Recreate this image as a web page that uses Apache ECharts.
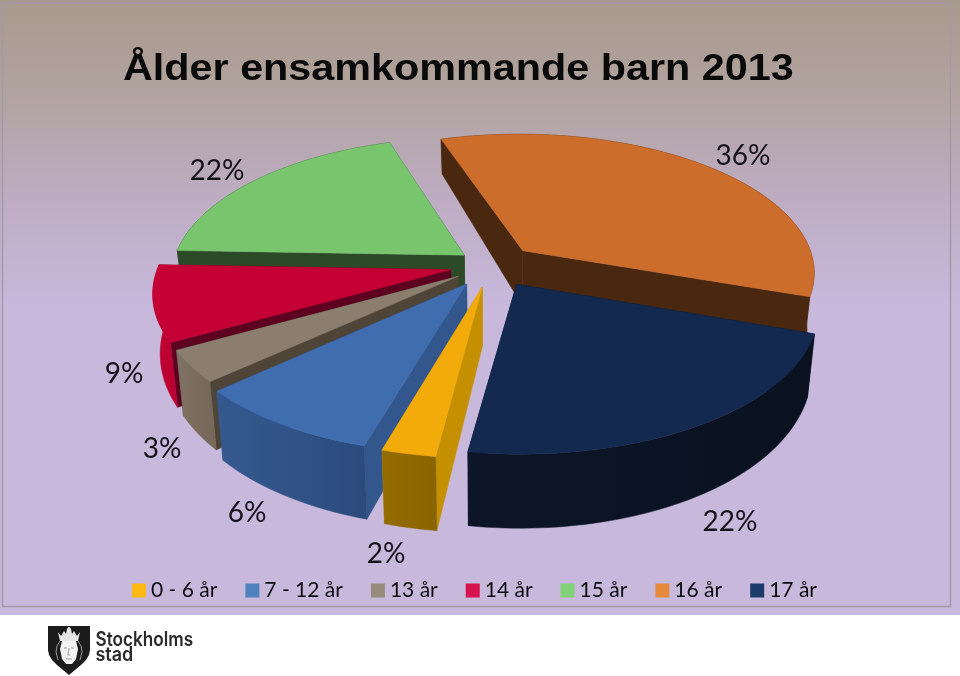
<!DOCTYPE html>
<html><head><meta charset="utf-8">
<style>html,body{margin:0;padding:0;background:#fff}#c{width:960px;height:676px}</style>
<script src="https://cdn.jsdelivr.net/npm/echarts@6/dist/echarts.min.js"></script>
</head><body><div id="c"></div>
<script>
const title = 'Ålder ensamkommande barn 2013';
const categories = ['0 - 6 år','7 - 12 år','13 år','14 år','15 år','16 år','17 år'];
const values = [2,6,3,9,22,36,22];
const legendColors = ['#fdb813','#4f81bd','#968b7d','#d5134f','#82d078','#e58a3c','#1c3a6a'];
const topColors = ['#f3ab0c','#3f6db0','#8b7e6e','#c40034','#78c56e','#cc6d2c','#14294f'];
const radialColors = ['#c49000','#33578c','#4f4438','#5e0020','#2d4a28','#4a2810','#0b1525'];
const arcColorsA = ['#946c00','#35598f','#7e7262','#bc0032','#2d4a28','#4a2810','#0c1628'];
const arcColorsB = ['#8a6400','#2b4b7c','#76695a','#bc0032','#2d4a28','#4a2810','#0a1220'];
const drawOrder = [5,4,3,2,1,0,6];
const explode = [.16,.16,.14,.145,.12,.15,.16];
const labelPos = [[386,554],[247,513],[162,449],[124,374],[217,171],[743,156],[730,522]];

// view geometry of the perspective pie
const cx=492, cy=265, R=292, Ry=138, P=.15, BOTTOM=.978, START=188;
// angular distortion of the reference's oblique view (data angle -> drawn angle)
const warpA=[188,195.2,216.8,227.6,260,339.2,395,548];
const warpB=[187.3,196.3,228,241,272,342,395,548.7];
function warp(t){for(let i=1;i<warpA.length;i++){if(t<=warpA[i]){const f=(t-warpA[i-1])/(warpA[i]-warpA[i-1]);return warpB[i-1]+f*(warpB[i]-warpB[i-1]);}}return t;}
function topPt(x,y){const s=1/(1-P*y);return [cx+R*x*s,cy+Ry*y*s];}
function botPt(x,y){const p=topPt(x,y);const h=35+37*Math.pow(Math.max(0,(1+y)/2),.8);return [cx+(p[0]-cx)*BOTTOM,p[1]+h];}
const total=values.reduce((a,b)=>a+b,0);
const starts=values.map((v,i)=>values.slice(0,i).reduce((a,b)=>a+b,0));

function renderSlice(idx){
  return function(params,api){
    const a0=warp(START+api.value(0)/total*360), a1=warp(START+(api.value(0)+api.value(1))/total*360);
    const mid=(a0+a1)/2*Math.PI/180, e=explode[idx];
    const ox=e*Math.sin(mid), oy=-e*Math.cos(mid);
    const g=[];const n=Math.max(6,Math.round((a1-a0)/1.5));
    for(let i=0;i<=n;i++){const t=(a0+(a1-a0)*i/n)*Math.PI/180;g.push([ox+Math.sin(t),oy-Math.cos(t)]);}
    const arcT=g.map(q=>topPt(q[0],q[1])), arcB=g.map(q=>botPt(q[0],q[1]));
    const at=topPt(ox,oy), ab=botPt(ox,oy);
    const poly=(pts,fill)=>({type:'polygon',shape:{points:pts},style:{fill:fill,stroke:fill,lineWidth:.5}});
    const lastG=g.length-1;
    const xs=arcT.map(p=>p[0]);
    const arcFill=new echarts.graphic.LinearGradient(Math.min(...xs),0,Math.max(...xs),0,[{offset:0,color:arcColorsA[idx]},{offset:1,color:arcColorsB[idx]}],true);
    return {type:'group',children:[
      poly([at,arcT[0],arcB[0],ab],radialColors[idx]),
      poly([at,arcT[lastG],arcB[lastG],ab],radialColors[idx]),
      poly(arcT.concat(arcB.slice().reverse()),arcFill),
      poly([at].concat(arcT),topColors[idx]),
      {type:'text',style:{text:api.value(1)+'%',x:labelPos[idx][0],y:labelPos[idx][1],align:'center',verticalAlign:'middle',font:'28px Lato',fill:'#15121c'},z2:50}
    ]};
  };
}

const series=drawOrder.map(i=>({
  type:'custom',name:categories[i],coordinateSystem:'none',silent:true,animation:false,
  itemStyle:{color:legendColors[i]},
  data:[[starts[i],values[i]]],renderItem:renderSlice(i)
}));

const shield=[[48,626],[90,626],[90,650],[89,655],[86,660],[81,665],[69,675],[57,665],[52,660],[49,655],[48,650]];
const crown=[[58,632],[61,636],[64,631],[66,634],[67,629],[69,626.5],[71,629],[72,634],[74,631],[77,636],[80,632],[78,641],[60,641]];
const face=[[62,641],[76,641],[78,649],[76,659],[72,664],[66,664],[62,659],[60,649]];
const logoLines=[
  [[60,641],[57,646],[56,652],[58,660]],
  [[78,641],[81,646],[82,652],[80,660]],
  [[64,648],[67,648]],[[71,648],[74,648]],
  [[69,648],[68,655],[70,655]],[[66,659],[72,659]]
];
const chart=echarts.init(document.getElementById('c'),null,{renderer:'canvas'});
chart.setOption({
  animation:false,
  legend:{data:categories,left:127,top:575,itemWidth:14,itemHeight:14,itemGap:28,icon:'rect',
    textStyle:{fontFamily:'Lato',fontSize:21,color:'#0c0c10',padding:[5,0,0,0]}},
  graphic:[
    {type:'rect',z:-10,silent:true,shape:{x:0,y:0,width:960,height:615},
     style:{fill:new echarts.graphic.LinearGradient(0,0,0,1,[{offset:0,color:'#a89a8d'},{offset:.14,color:'#b0a29d'},{offset:.3,color:'#bcabbe'},{offset:.5,color:'#c8b8dc'},{offset:1,color:'#c8b8dc'}])}},
    {type:'rect',z:-9,silent:true,shape:{x:2.5,y:3.5,width:948,height:603},style:{fill:'none',stroke:'#a39aa6',lineWidth:1.5}},
    {type:'text',z:5,silent:true,x:123,y:51,scaleX:1.117,style:{text:title,font:'bold 37px "Liberation Sans"',fill:'#0a0a0a'}},
    {type:'polygon',z:5,silent:true,shape:{points:shield},style:{fill:'#1c1c1c'}},
    {type:'polygon',z:6,silent:true,shape:{points:crown},style:{fill:'#e6e6e6'}},
    {type:'polygon',z:6,silent:true,shape:{points:face},style:{fill:'#f2f2f2'}}
  ].concat(logoLines.map(l=>({type:'polyline',z:7,silent:true,shape:{points:l},style:{fill:'none',stroke:'#9a9a9a',lineWidth:1}}))).concat([
    {type:'text',z:5,silent:true,x:95.5,y:630,scaleX:.88,style:{text:'Stockholms',font:'600 19.5px Inter',fill:'#2a2a2a'}},
    {type:'text',z:5,silent:true,x:95.5,y:645,scaleX:.92,style:{text:'stad',font:'600 19.5px Inter',fill:'#2a2a2a'}}
  ]),
  series:series
});
</script></body></html>
